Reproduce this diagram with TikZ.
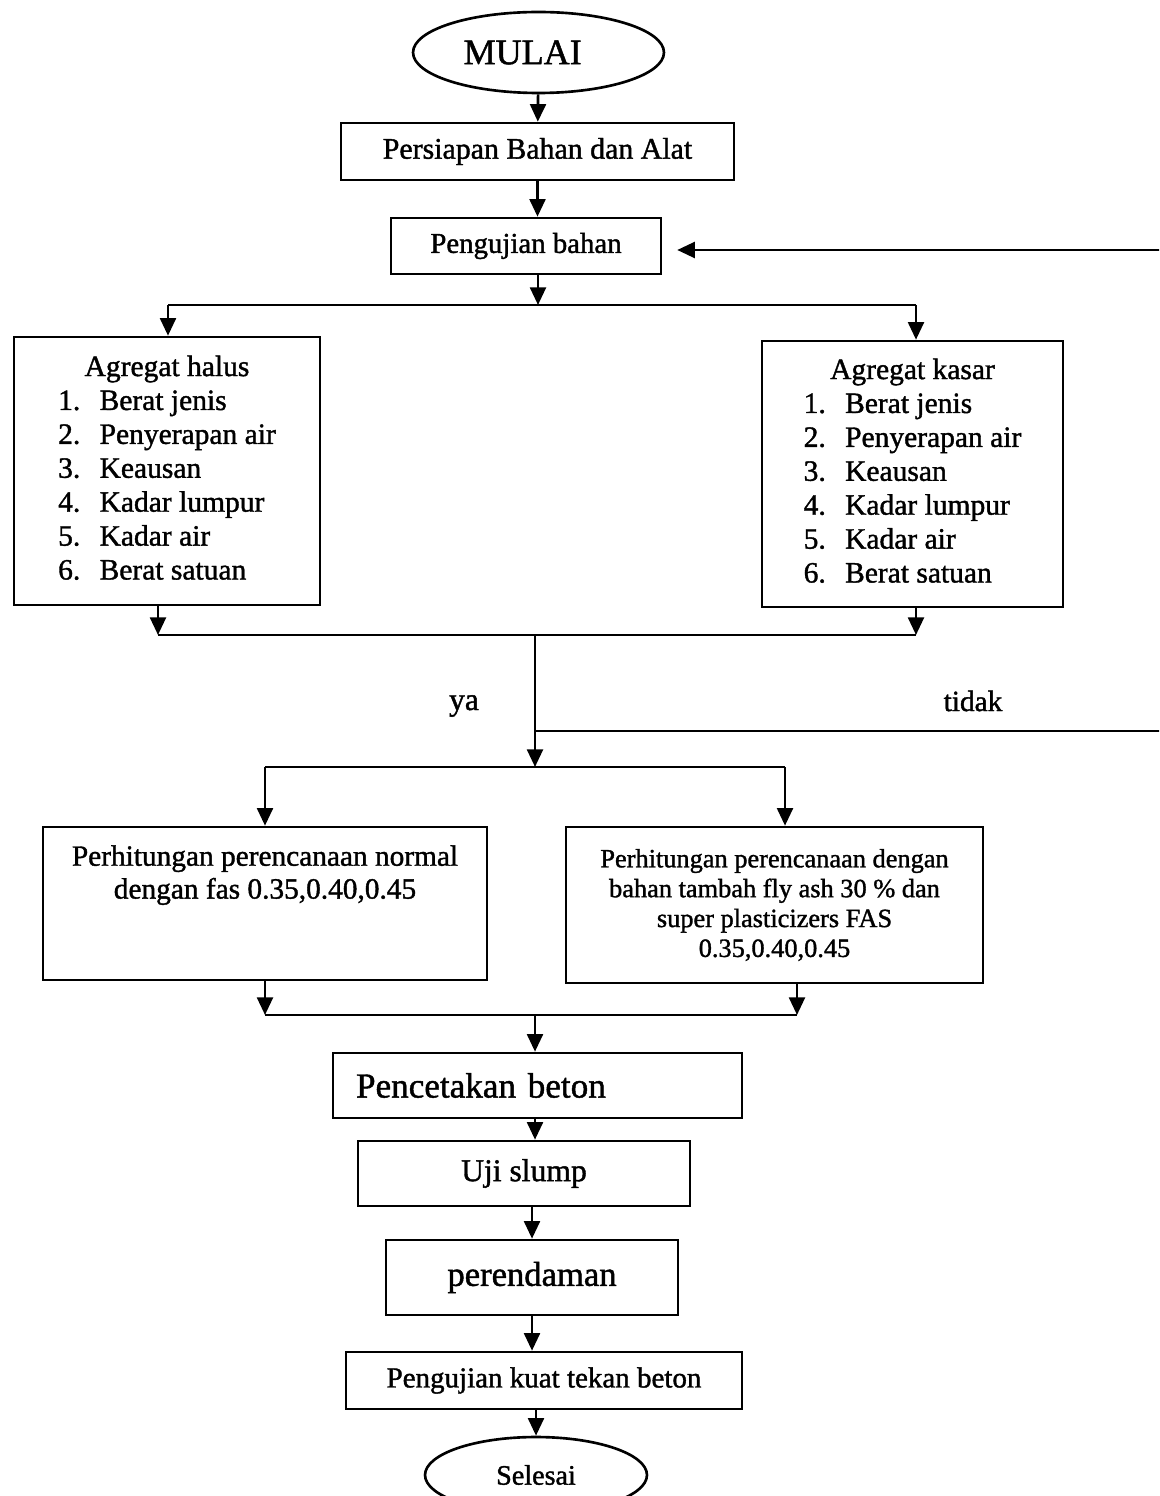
\documentclass[tikz,border=0pt]{standalone}
\usepackage{fontspec}
\setmainfont{Liberation Serif}[FakeBold=1.3]
\usetikzlibrary{arrows.meta,shapes.geometric}
\newcommand{\fsz}[2]{\fontsize{#1}{#2}\selectfont}
\begin{document}
\begin{tikzpicture}[x=0.02cm,y=-0.02cm,
  box/.style={draw,rectangle,inner sep=0pt,line width=1.5pt,align=center},
  term/.style={draw,ellipse,inner sep=0pt,line width=1.5pt},
  arr/.style={-{Triangle[length=10pt,width=9pt]},line width=1.5pt},
  ln/.style={line width=1.5pt},
  lbl/.style={inner sep=0pt}
]
\useasboundingbox (0,0) rectangle (1159,1496);
\clip (0,0) rectangle (1159,1496);

% nodes
\node[term,minimum width=5.02cm,minimum height=1.62cm,font={\fsz{20.5pt}{24pt}}] (mulai) at (538.5,52.5) {MULAI\rule{18pt}{0pt}};
\node[box,minimum width=7.86cm,minimum height=1.14cm,font={\fsz{17pt}{20pt}}] (persiapan) at (537.5,151.5) {Persiapan Bahan dan Alat};
\node[box,minimum width=5.4cm,minimum height=1.12cm,font={\fsz{16.4pt}{20pt}}] (pengujian) at (526,246) {Pengujian bahan};

\node[box,minimum width=6.12cm,minimum height=5.36cm,font={\fsz{16.8pt}{19.3pt}}] (halus) at (167,471) {%
\begin{tabular}{@{}l@{\hspace{11pt}}l@{}}
\multicolumn{2}{c}{Agregat halus}\\
1. & Berat jenis\\
2. & Penyerapan air\\
3. & Keausan\\
4. & Kadar lumpur\\
5. & Kadar air\\
6. & Berat satuan
\end{tabular}};
\node[box,minimum width=6.02cm,minimum height=5.32cm,font={\fsz{16.8pt}{19.3pt}}] (kasar) at (912.5,474) {%
\begin{tabular}{@{}l@{\hspace{11pt}}l@{}}
\multicolumn{2}{c}{Agregat kasar}\\
1. & Berat jenis\\
2. & Penyerapan air\\
3. & Keausan\\
4. & Kadar lumpur\\
5. & Kadar air\\
6. & Berat satuan
\end{tabular}};

\node[lbl,font={\fsz{18pt}{20pt}}] (ya) at (464,706) {ya};
\node[lbl,font={\fsz{16.7pt}{20pt}}] (tidak) at (973,701) {tidak};

\node[box,minimum width=8.88cm,minimum height=3.06cm] (calcL) at (265,903.5) {};
\node[lbl,anchor=north,align=center,font={\fsz{16.7pt}{18.7pt}}] (calcLtxt) at (265,845) {Perhitungan perencanaan normal\\dengan fas 0.35,0.40,0.45};
\node[box,minimum width=8.34cm,minimum height=3.12cm,font={\fsz{15pt}{17pt}}] (calcR) at (774.5,905) {Perhitungan perencanaan dengan\\bahan tambah fly ash 30 \% dan\\super plasticizers FAS\\0.35,0.40,0.45};

\node[box,align=left,text width=7.26cm,inner xsep=0.46cm,minimum height=1.3cm,font={\fsz{20pt}{24pt}}] (cetak) at (537.5,1085.5) {Pencetakan beton};
\node[box,minimum width=6.64cm,minimum height=1.3cm,font={\fsz{18pt}{22pt}}] (uji) at (524,1173.5) {Uji slump};
\node[box,minimum width=5.84cm,minimum height=1.5cm,font={\fsz{19.7pt}{23pt}}] (rendam) at (532,1277.5) {perendaman};
\node[box,minimum width=7.92cm,minimum height=1.14cm,font={\fsz{16.5pt}{20pt}}] (kuat) at (544,1380.5) {Pengujian kuat tekan beton};
\node[term,minimum width=4.44cm,minimum height=1.52cm,font={\fsz{16pt}{20pt}}] (selesai) at (536,1475) {Selesai};

% junction coordinates
\coordinate (s1) at (538,305);
\coordinate (s1l) at (168,305);
\coordinate (s1r) at (916,305);
\coordinate (m1l) at (158,635);
\coordinate (m1r) at (916,635);
\coordinate (j1) at (535,635);
\coordinate (tj) at (535,731);
\coordinate (j2) at (535,767);
\coordinate (j2l) at (265,767);
\coordinate (j2r) at (785,767);
\coordinate (m2l) at (265,1015);
\coordinate (m2r) at (797,1015);
\coordinate (m2c) at (535,1015);
\coordinate (fbA) at (1180,731);
\coordinate (fbB) at (1180,250);

% connectors
\draw[arr] (mulai) -- (persiapan);
\draw[arr] (persiapan.south) -- (persiapan.south |- pengujian.north);
\draw[arr] (pengujian.south -| s1) -- (s1);
\draw[ln] (s1l) -- (s1r);
\draw[arr] (s1l) -- (s1l |- halus.north);
\draw[arr] (s1r) -- (s1r |- kasar.north);
\draw[arr] (halus.south -| m1l) -- (m1l);
\draw[arr] (kasar.south -| m1r) -- (m1r);
\draw[ln] (m1l) -- (m1r);
\draw[arr] (j1) -- (j2);
\draw[arr,shorten >=8.5pt] (tj) -- (fbA) -- (fbB) -- (fbB -| pengujian.east);
\draw[ln] (j2l) -- (j2r);
\draw[arr] (j2l) -- (j2l |- calcL.north);
\draw[arr] (j2r) -- (j2r |- calcR.north);
\draw[arr] (calcL.south -| m2l) -- (m2l);
\draw[arr] (calcR.south -| m2r) -- (m2r);
\draw[ln] (m2l) -- (m2r);
\draw[arr] (m2c) -- (m2c |- cetak.north);
\draw[arr] (cetak.south -| m2c) -- (uji.north -| m2c);
\draw[arr] (rendam.north |- uji.south) -- (rendam.north);
\draw[arr] (rendam.south) -- (rendam.south |- kuat.north);
\draw[arr] (selesai.north |- kuat.south) -- (selesai.north);
\end{tikzpicture}
\end{document}
